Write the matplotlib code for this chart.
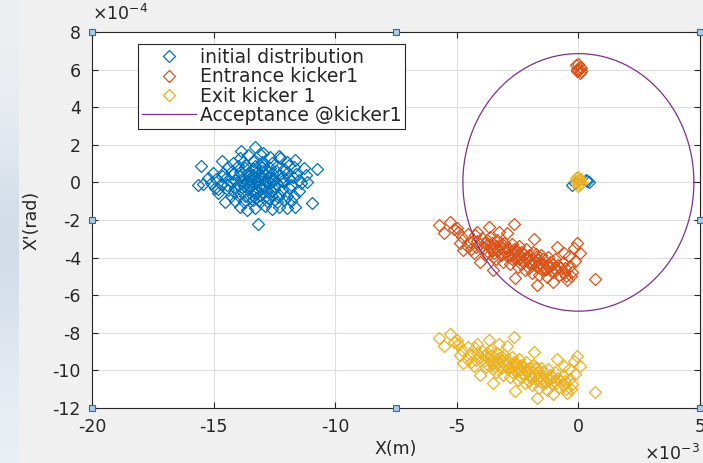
"""Phase-space plot of the beam through kicker 1 with the acceptance ellipse."""
import numpy as np
import matplotlib
matplotlib.use("Agg")
import matplotlib.pyplot as plt
from matplotlib.markers import MarkerStyle

# Positions in 1e-3 m, angles in 1e-4 rad
INITIAL = [
    (-15.53, 0.87), (-15.63, -0.14), (-15.42, -0.09), (-15.01, 0.52), (-14.66, 1.15),
    (-13.87, 1.69), (-13.29, 1.87), (-12.95, 1.58), (-12.26, 1.28), (-11.65, 1.19),
    (-10.75, 0.71), (-10.96, -1.08), (-11.16, 0.04), (-11.65, -1.33), (-13.16, -2.21),
    (-14.80, -0.58), (-14.53, -1.03), (-13.63, -1.47), (-11.99, -1.36),
    (-13.6, 1.45), (-13.1, 1.5), (-12.7, 1.35), (-12.3, 1.4), (-13.9, 1.3),
    (-14.2, 1.05), (-13.8, 1.1), (-13.4, 1.15), (-13.0, 1.1), (-12.6, 1.05), (-12.0, 1.1), (-11.9, 0.95),
    (-14.4, 0.8), (-14.0, 0.85), (-13.7, 0.75), (-13.3, 0.85), (-13.0, 0.8), (-12.7, 0.75),
    (-12.4, 0.85), (-12.1, 0.7), (-11.7, 0.8), (-11.3, 0.75),
    (-14.6, 0.5), (-14.2, 0.45), (-13.9, 0.55), (-13.6, 0.5), (-13.4, 0.4), (-13.2, 0.55),
    (-12.9, 0.45), (-12.6, 0.5), (-12.3, 0.4), (-12.0, 0.5), (-11.6, 0.45),
    (-14.9, 0.2), (-14.5, 0.25), (-14.1, 0.15), (-13.8, 0.25), (-13.5, 0.2), (-13.3, 0.1),
    (-13.1, 0.25), (-12.8, 0.15), (-12.5, 0.2), (-12.2, 0.1), (-11.9, 0.25), (-11.5, 0.15),
    (-15.1, -0.05), (-14.7, -0.1), (-14.3, 0.0), (-14.0, -0.15), (-13.7, -0.05), (-13.45, -0.1),
    (-13.2, 0.0), (-12.95, -0.15), (-12.7, -0.05), (-12.4, -0.1), (-12.1, 0.0), (-11.8, -0.15), (-11.4, -0.05),
    (-14.8, -0.35), (-14.4, -0.4), (-14.1, -0.3), (-13.85, -0.45), (-13.6, -0.35), (-13.3, -0.4),
    (-13.05, -0.3), (-12.8, -0.45), (-12.5, -0.35), (-12.2, -0.4), (-11.9, -0.3), (-11.5, -0.45),
    (-14.3, -0.7), (-14.0, -0.65), (-13.7, -0.75), (-13.4, -0.7), (-13.1, -0.65), (-12.85, -0.75),
    (-12.6, -0.7), (-12.3, -0.65), (-12.0, -0.75), (-11.7, -0.7),
    (-14.1, -1.0), (-13.75, -1.05), (-13.4, -0.95), (-13.1, -1.05), (-12.8, -1.0), (-12.4, -1.05),
    (-12.1, -0.95), (-11.8, -1.0),
    (-13.9, -1.3), (-13.3, -1.35), (-12.9, -1.25), (-12.6, -1.4), (-12.3, -1.3),
    (-13.35, 0.3), (-13.0, -0.3), (-12.9, 0.05), (-13.5, -0.2), (-13.2, -0.5), (-12.7, 0.3),
    (-13.6, 0.1), (-13.0, 0.6), (-12.5, -0.2), (-13.4, 0.7),
    (-13.25, 0.15), (-13.15, -0.2), (-13.45, 0.05), (-12.85, -0.25), (-13.55, 0.35),
    (-13.05, 0.35), (-12.75, 0.55), (-13.75, -0.2), (-13.35, -0.55), (-12.65, -0.45),
    (-13.95, 0.35), (-14.15, -0.5), (-12.45, 0.6), (-13.65, 0.95), (-12.95, 0.95),
    (-14.25, 0.6), (-12.35, -0.8), (-13.55, -0.85), (-12.15, 0.3), (-14.45, -0.15),
    (-13.85, 0.05), (-12.55, 0.05), (-13.25, -0.85), (-12.75, -0.85), (-13.15, 0.95),
    (-14.65, 0.35), (-11.75, 0.3), (-15.25, 0.25), (-11.2, 0.4), (-14.95, -0.3),
    # reference particle bunch at the origin
    (-0.25, -0.14), (-0.15, -0.05), (0.35, 0.08), (0.42, 0.02), (0.30, 0.12),
]

ENTRANCE = [
    (-5.75, -2.27), (-5.27, -2.09), (-5.54, -2.71), (-5.10, -2.50), (-2.66, -2.21),
    (0.70, -5.14), (-0.05, -3.24), (0.08, -3.77), (-2.59, -5.10), (-1.70, -5.46),
    (-3.50, -4.66), (-4.73, -3.60), (-4.03, -4.22), (-0.47, -5.19), (-1.03, -5.28),
    (-3.69, -2.36), (-3.28, -2.62), (-2.93, -2.71), (-4.17, -2.62), (-1.84, -3.03),
    (-0.88, -3.42), (-4.93, -2.62), (-5.00, -2.40), (-4.80, -2.90), (-4.85, -3.20),
    (-0.20, -3.50), (-0.40, -3.90), (-0.15, -4.20), (-0.60, -3.75),
    (-4.55, -2.75), (-4.45, -3.15), (-4.60, -3.40),
    (-4.25, -2.80), (-4.15, -3.10), (-4.20, -3.45), (-4.30, -3.75),
    (-3.95, -2.95), (-3.85, -3.20), (-3.90, -3.50), (-3.80, -3.80),
    (-3.65, -2.90), (-3.55, -3.20), (-3.60, -3.45), (-3.70, -3.70), (-3.50, -3.95),
    (-3.35, -3.05), (-3.25, -3.35), (-3.30, -3.60), (-3.20, -3.85), (-3.40, -4.10),
    (-3.05, -3.20), (-2.95, -3.45), (-3.00, -3.70), (-2.90, -3.95), (-3.10, -4.25),
    (-2.75, -3.30), (-2.65, -3.55), (-2.70, -3.80), (-2.60, -4.05), (-2.80, -4.35),
    (-2.45, -3.40), (-2.35, -3.70), (-2.40, -3.95), (-2.30, -4.20), (-2.50, -4.50),
    (-2.15, -3.55), (-2.05, -3.85), (-2.10, -4.10), (-2.00, -4.35), (-2.20, -4.65),
    (-1.85, -3.70), (-1.75, -3.95), (-1.80, -4.25), (-1.70, -4.50), (-1.90, -4.80),
    (-1.55, -3.85), (-1.45, -4.10), (-1.50, -4.40), (-1.40, -4.65), (-1.60, -4.95),
    (-1.25, -3.95), (-1.15, -4.25), (-1.20, -4.50), (-1.10, -4.75), (-1.30, -5.05),
    (-0.95, -4.10), (-0.85, -4.40), (-0.90, -4.65), (-0.80, -4.90),
    (-0.65, -4.30), (-0.55, -4.55), (-0.60, -4.80), (-0.50, -5.00),
    (-0.35, -4.45), (-0.25, -4.75), (-0.30, -5.00),
    (-3.40, -3.40), (-2.90, -3.60), (-2.50, -3.85), (-2.20, -4.00), (-1.90, -4.10),
    (-1.60, -4.30), (-3.70, -3.30), (-2.00, -4.20), (-2.60, -3.70), (-1.30, -4.40),
    (-1.00, -4.55), (-3.10, -3.50),
    (-3.15, -3.30), (-2.85, -3.80), (-2.55, -3.60), (-2.25, -3.80), (-1.95, -4.35),
    (-1.65, -4.15), (-1.35, -4.60), (-3.45, -3.75), (-2.35, -4.35), (-1.75, -3.80),
    (-4.05, -3.30), (-3.75, -3.05), (-2.75, -4.10), (-2.05, -4.55), (-1.05, -4.35),
    (-0.75, -4.55), (-4.40, -3.55), (-3.55, -3.60), (-2.45, -4.05), (-1.55, -4.60),
    # reference particle after the kick
    (-0.10, 6.25), (0.00, 6.30), (0.05, 6.15), (-0.05, 6.05), (0.10, 5.95),
    (0.05, 5.80), (-0.05, 5.90), (0.10, 6.10), (0.00, 6.00),
]

EXIT = [
    (-5.75, -8.27), (-5.27, -8.09), (-5.54, -8.71), (-5.10, -8.50), (-2.66, -8.21),
    (0.70, -11.14), (-0.05, -9.24), (0.08, -9.77), (-2.59, -11.10), (-1.70, -11.46),
    (-3.50, -10.66), (-4.73, -9.60), (-4.03, -10.22), (-0.47, -11.19), (-1.03, -11.28),
    (-3.69, -8.36), (-3.28, -8.62), (-2.93, -8.71), (-4.17, -8.62), (-1.84, -9.03),
    (-0.88, -9.42), (-4.93, -8.62), (-5.00, -8.40), (-4.80, -8.90), (-4.85, -9.20),
    (-0.20, -9.50), (-0.40, -9.90), (-0.15, -10.20), (-0.60, -9.75),
    (-4.55, -8.75), (-4.45, -9.15), (-4.60, -9.40),
    (-4.25, -8.80), (-4.15, -9.10), (-4.20, -9.45), (-4.30, -9.75),
    (-3.95, -8.95), (-3.85, -9.20), (-3.90, -9.50), (-3.80, -9.80),
    (-3.65, -8.90), (-3.55, -9.20), (-3.60, -9.45), (-3.70, -9.70), (-3.50, -9.95),
    (-3.35, -9.05), (-3.25, -9.35), (-3.30, -9.60), (-3.20, -9.85), (-3.40, -10.10),
    (-3.05, -9.20), (-2.95, -9.45), (-3.00, -9.70), (-2.90, -9.95), (-3.10, -10.25),
    (-2.75, -9.30), (-2.65, -9.55), (-2.70, -9.80), (-2.60, -10.05), (-2.80, -10.35),
    (-2.45, -9.40), (-2.35, -9.70), (-2.40, -9.95), (-2.30, -10.20), (-2.50, -10.50),
    (-2.15, -9.55), (-2.05, -9.85), (-2.10, -10.10), (-2.00, -10.35), (-2.20, -10.65),
    (-1.85, -9.70), (-1.75, -9.95), (-1.80, -10.25), (-1.70, -10.50), (-1.90, -10.80),
    (-1.55, -9.85), (-1.45, -10.10), (-1.50, -10.40), (-1.40, -10.65), (-1.60, -10.95),
    (-1.25, -9.95), (-1.15, -10.25), (-1.20, -10.50), (-1.10, -10.75), (-1.30, -11.05),
    (-0.95, -10.10), (-0.85, -10.40), (-0.90, -10.65), (-0.80, -10.90),
    (-0.65, -10.30), (-0.55, -10.55), (-0.60, -10.80), (-0.50, -11.00),
    (-0.35, -10.45), (-0.25, -10.75), (-0.30, -11.00),
    (-3.40, -9.40), (-2.90, -9.60), (-2.50, -9.85), (-2.20, -10.00), (-1.90, -10.10),
    (-1.60, -10.30), (-3.70, -9.30), (-2.00, -10.20), (-2.60, -9.70), (-1.30, -10.40),
    (-1.00, -10.55), (-3.10, -9.50),
    (-3.15, -9.30), (-2.85, -9.80), (-2.55, -9.60), (-2.25, -9.80), (-1.95, -10.35),
    (-1.65, -10.15), (-1.35, -10.60), (-3.45, -9.75), (-2.35, -10.35), (-1.75, -9.80),
    (-4.05, -9.30), (-3.75, -9.05), (-2.75, -10.10), (-2.05, -10.55), (-1.05, -10.35),
    (-0.75, -10.55), (-4.40, -9.55), (-3.55, -9.60), (-2.45, -10.05), (-1.55, -10.60),
    # reference particle at the exit
    (-0.10, 0.25), (0.00, 0.30), (0.05, 0.15), (-0.05, 0.00), (0.10, -0.05),
    (0.00, -0.20), (-0.08, 0.10), (0.08, 0.20), (0.02, -0.10),
]

ACCEPT_A = 4.75   # half width, 1e-3 m
ACCEPT_B = 6.85   # half height, 1e-4 rad

LABELS = ["initial distribution", "Entrance kicker1", "Exit kicker 1", "Acceptance @kicker1"]
COLORS = ["#0072BD", "#D95319", "#EDB120", "#7E2F8E"]
XTICKS = [-20, -15, -10, -5, 0, 5]
YTICKS = [-12, -10, -8, -6, -4, -2, 0, 2, 4, 6, 8]

plt.rcParams["font.family"] = "DejaVu Sans"
plt.rcParams["axes.unicode_minus"] = False
plt.rcParams["mathtext.default"] = "regular"

TXT = "#262626"

fig = plt.figure(figsize=(7.03, 4.63), dpi=100)
fig.patch.set_facecolor("#f0f0f0")

# soft strip of desktop behind the window on the left
bg = fig.add_axes([0, 0, 0.026, 1], zorder=-5)
rows = np.array([[0.93, 0.94, 0.95], [0.90, 0.92, 0.94], [0.80, 0.85, 0.90],
                 [0.86, 0.89, 0.93], [0.92, 0.94, 0.96]])
bg.imshow(rows[:, None, :], aspect="auto", interpolation="bicubic", extent=[0, 1, 0, 1])
bg.axis("off")

ax = fig.add_axes([0.1309, 0.1188, 0.8648, 0.8121])

diamond = MarkerStyle("D", joinstyle="round")
for pts, color, label in zip([INITIAL, ENTRANCE, EXIT], COLORS, LABELS):
    x, y = np.array(pts).T
    ax.plot(x, y, linestyle="none", marker=diamond, ms=6.0,
            mfc="none", mec=color, mew=0.9, label=label)

theta = np.linspace(0, 2 * np.pi, 400)
ax.plot(ACCEPT_A * np.cos(theta), ACCEPT_B * np.sin(theta),
        color=COLORS[3], lw=0.9, label=LABELS[3])

ax.set_xlim(XTICKS[0], XTICKS[-1])
ax.set_ylim(YTICKS[0], YTICKS[-1])
ax.set_xticks(XTICKS)
ax.set_yticks(YTICKS)
ax.grid(True, color="#dedede", lw=0.8)
ax.set_axisbelow(True)
ax.tick_params(direction="in", top=True, right=True, length=4, labelsize=12.5,
               colors=TXT, width=0.8)
ax.tick_params(axis="y", pad=8)
ax.tick_params(axis="x", pad=7)
for sp in ax.spines.values():
    sp.set_color(TXT)
    sp.set_linewidth(0.8)
ax.set_xlabel("X(m)", fontsize=12.5, color=TXT, labelpad=3)
ax.set_ylabel("X'(rad)", fontsize=12.5, color=TXT, labelpad=9)

# axis exponents
ax.text(0.0, 1.022, r"$\times10^{-4}$", transform=ax.transAxes, ha="left", va="bottom",
        fontsize=12.5, color=TXT)
ax.text(0.999, -0.095, r"$\times10^{-3}$", transform=ax.transAxes, ha="right", va="top",
        fontsize=12.5, color=TXT)

leg = ax.legend(loc="upper left", bbox_to_anchor=(0.0757, 0.968), borderaxespad=0,
                fancybox=False, framealpha=1, edgecolor=TXT, fontsize=13.5,
                handlelength=2.9, handletextpad=0.2, labelspacing=0.02, borderpad=0.2)
leg.get_frame().set_linewidth(0.8)
for t in leg.get_texts():
    t.set_color(TXT)

# selection handles around the axes box
hx = [0, 0.5, 1, 0, 1, 0, 0.5, 1]
hy = [1, 1, 1, 0.5, 0.5, 0, 0, 0]
ax.plot(hx, hy, linestyle="none", marker="s", ms=5, mfc="#a9cbe9", mec="#1f6fb5",
        mew=0.8, transform=ax.transAxes, clip_on=False, zorder=10)

fig.savefig("out.png", dpi=100, facecolor=fig.get_facecolor())
